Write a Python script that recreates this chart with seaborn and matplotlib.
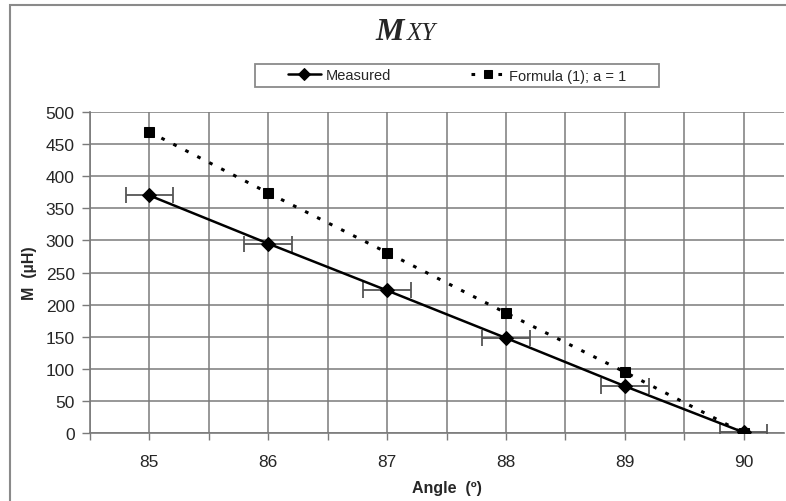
import numpy as np
import pandas as pd
import seaborn as sns
import matplotlib.pyplot as plt
import matplotlib.patches as patches

# valores
angulos = [85, 86, 87, 88, 89, 90]
medido = [370, 295, 222, 148, 73, 1]
formula = [469, 374, 281, 187, 95, 0]
erro_angulo = [0.2, 0.2, 0.2, 0.2, 0.2, 0.2]

df = pd.DataFrame({'angulo': angulos, 'medido': medido, 'formula': formula})

sns.set_style('white')
plt.rcParams['font.family'] = ['Liberation Sans', 'DejaVu Sans']

fig = plt.figure(figsize=(7.86, 5.02), dpi=100)
ax = fig.add_axes([90 / 786, 1 - 434 / 502, 694 / 786, 321 / 502])

# moldura cinza do gráfico
moldura = patches.Rectangle((10 / 786, -0.1), 1.2, 1.1 - 6 / 502, transform=fig.transFigure,
                            fill=False, edgecolor='#8a8a8a', linewidth=1.5, clip_on=False)
fig.add_artist(moldura)

# barras de erro horizontais
ax.errorbar(df['angulo'], df['medido'], xerr=erro_angulo, fmt='none', ecolor='#555555',
            elinewidth=1.3, capsize=6, capthick=1.3, zorder=3)

sns.lineplot(data=df, x='angulo', y='medido', ax=ax, color='black', linewidth=1.8,
             marker='D', markersize=7, markeredgecolor='black', label='Measured', zorder=4)
sns.lineplot(data=df, x='angulo', y='formula', ax=ax, color='black', linewidth=2.2,
             linestyle=(0, (1.2, 3.2)), marker='s', markersize=7, markeredgecolor='black',
             label='Formula (1); a = 1', zorder=4)

ax.set_xlim(84.5, 90.34)
ax.set_ylim(0, 500)
ax.set_xticks([85, 86, 87, 88, 89, 90])
ax.set_xticks(np.arange(84.5, 90.4, 1.0), minor=True)
ax.set_yticks(range(0, 501, 50))
ax.grid(True, which='both', color='#7a7a7a', linewidth=1.1)
ax.tick_params(axis='x', which='both', direction='out', length=5, width=1, color='#7a7a7a',
               bottom=True, labelsize=12.5, pad=10)
ax.tick_params(axis='y', direction='out', length=6, width=1, color='#7a7a7a', left=True,
               labelsize=12.5, pad=5)
for lado in ['top', 'right']:
    ax.spines[lado].set_visible(False)
for lado in ['left', 'bottom']:
    ax.spines[lado].set_color('#7a7a7a')
    ax.spines[lado].set_linewidth(1.2)

ax.set_xlabel('Angle  (º)', fontsize=11.5, fontweight='bold')
ax.set_ylabel('M  (µH)', fontsize=11.5, fontweight='bold')
ax.xaxis.set_label_coords(0.514, -0.146)
ax.yaxis.set_label_coords(-0.076, 0.5)

# título M_XY
fig.text(375 / 786, 1 - 40 / 502, 'M', fontsize=23, fontstyle='italic', fontweight='bold',
         family='Liberation Serif', ha='left', va='baseline')
fig.text(407 / 786, 1 - 40 / 502, 'XY', fontsize=18, fontstyle='italic',
         family='Liberation Serif', ha='left', va='baseline')

# legenda sem moldura + caixa desenhada à parte
leg = ax.legend(loc='center', bbox_to_anchor=(457 / 786, 1 - 76.5 / 502),
                bbox_transform=fig.transFigure, ncol=2, frameon=False,
                fontsize=10.5, handlelength=2.3, columnspacing=5.5,
                borderpad=0.35, handletextpad=0.3)
for h in leg.legend_handles:
    h.set_markersize(6)
caixa = patches.Rectangle((255 / 786, 1 - 88 / 502), 404 / 786, 23 / 502,
                          transform=fig.transFigure, fill=False, edgecolor='#8a8a8a',
                          linewidth=1.3)
fig.add_artist(caixa)

fig.savefig('out.png', dpi=100)
